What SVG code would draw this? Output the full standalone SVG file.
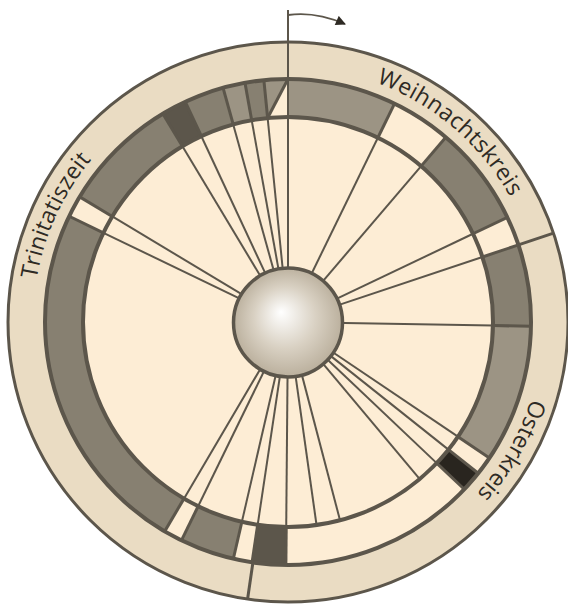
<svg xmlns="http://www.w3.org/2000/svg" width="568" height="605" viewBox="0 0 568 605">
<defs>
<style>
.seg{fill:none;stroke-width:38}
.lt{stroke:#9c9484}
.md{stroke:#878071}
.dk{stroke:#5c564b}
.bk{stroke:#29251f}
.bd{stroke:#5c564b;stroke-width:3}
.sp{stroke:#5c564b;stroke-width:2}
.lbl{font-family:"Open Sans","Liberation Sans",sans-serif;font-size:23px;fill:#2e2a24}
</style>
<radialGradient id="sph" gradientUnits="userSpaceOnUse" cx="288" cy="322" r="56" fx="281" fy="312">
<stop offset="0" stop-color="#ffffff"/>
<stop offset="0.55" stop-color="#d9d1c3"/>
<stop offset="1" stop-color="#b9ae9b"/>
</radialGradient>
<marker id="ah" viewBox="0 0 10 10" refX="9" refY="5" markerWidth="12" markerHeight="10" markerUnits="userSpaceOnUse" orient="auto">
<path d="M0,0 L10,5 L0,10 z" fill="#2e2a24"/>
</marker>
<path id="tp" d="M288,67 A255,255 0 0 1 288,577 A255,255 0 0 1 288,67"/>
</defs>

<g id="rings">
<circle cx="288" cy="322" r="280" fill="#eadcc3" stroke="#5c564b" stroke-width="3"/>
<circle cx="288" cy="322" r="243" fill="#fdedd5"/>
</g>

<g id="segments">
<circle class="seg lt" cx="288" cy="322" r="224" pathLength="360" stroke-dasharray="26 334" transform="rotate(-90 288 322)"/>
<circle class="seg md" cx="288" cy="322" r="224" pathLength="360" stroke-dasharray="24 336" transform="rotate(-49.5 288 322)"/>
<circle class="seg md" cx="288" cy="322" r="224" pathLength="360" stroke-dasharray="19.5 340.5" transform="rotate(-18.5 288 322)"/>
<circle class="seg lt" cx="288" cy="322" r="224" pathLength="360" stroke-dasharray="33 327" transform="rotate(1 288 322)"/>
<circle class="seg bk" cx="288" cy="322" r="224" pathLength="360" stroke-dasharray="5 355" transform="rotate(38.5 288 322)"/>
<circle class="seg dk" cx="288" cy="322" r="224" pathLength="360" stroke-dasharray="8 352" transform="rotate(90.5 288 322)"/>
<circle class="seg md" cx="288" cy="322" r="224" pathLength="360" stroke-dasharray="13 347" transform="rotate(103 288 322)"/>
<circle class="seg md" cx="288" cy="322" r="224" pathLength="360" stroke-dasharray="85.3 274.7" transform="rotate(120.5 288 322)"/>
<circle class="seg md" cx="288" cy="322" r="224" pathLength="360" stroke-dasharray="28 332" transform="rotate(211 288 322)"/>
<circle class="seg dk" cx="288" cy="322" r="224" pathLength="360" stroke-dasharray="6 354" transform="rotate(239 288 322)"/>
<circle class="seg md" cx="288" cy="322" r="224" pathLength="360" stroke-dasharray="9.5 350.5" transform="rotate(245 288 322)"/>
<circle class="seg lt" cx="288" cy="322" r="224" pathLength="360" stroke-dasharray="5.3 354.7" transform="rotate(254.5 288 322)"/>
<circle class="seg md" cx="288" cy="322" r="224" pathLength="360" stroke-dasharray="4.5 355.5" transform="rotate(259.8 288 322)"/>
<polygon points="263.9,80.2 276,79.3 288,79 267.6,118" fill="#9c9484"/>
</g>

<g id="ring-lines" fill="none" stroke="#5c564b">
<circle cx="288" cy="322" r="243" stroke-width="4"/>
<circle cx="288" cy="322" r="205" stroke-width="4"/>
<line x1="288" y1="79" x2="267.6" y2="118" stroke-width="3"/>
</g>

<g id="connectors">
<g id="boundaries">
<line class="bd" x1="288" y1="117" x2="288" y2="79" transform="rotate(26 288 322)"/>
<line class="bd" x1="288" y1="117" x2="288" y2="79" transform="rotate(40.5 288 322)"/>
<line class="bd" x1="288" y1="117" x2="288" y2="79" transform="rotate(64.5 288 322)"/>
<line class="bd" x1="288" y1="117" x2="288" y2="79" transform="rotate(71.5 288 322)"/>
<line class="bd" x1="288" y1="117" x2="288" y2="79" transform="rotate(91 288 322)"/>
<line class="bd" x1="288" y1="117" x2="288" y2="79" transform="rotate(124 288 322)"/>
<line class="bd" x1="288" y1="117" x2="288" y2="79" transform="rotate(128.5 288 322)"/>
<line class="bd" x1="288" y1="117" x2="288" y2="79" transform="rotate(133.5 288 322)"/>
<line class="bd" x1="288" y1="117" x2="288" y2="79" transform="rotate(180.5 288 322)"/>
<line class="bd" x1="288" y1="117" x2="288" y2="79" transform="rotate(188.5 288 322)"/>
<line class="bd" x1="288" y1="117" x2="288" y2="79" transform="rotate(193 288 322)"/>
<line class="bd" x1="288" y1="117" x2="288" y2="79" transform="rotate(206 288 322)"/>
<line class="bd" x1="288" y1="117" x2="288" y2="79" transform="rotate(210.5 288 322)"/>
<line class="bd" x1="288" y1="117" x2="288" y2="79" transform="rotate(295.8 288 322)"/>
<line class="bd" x1="288" y1="117" x2="288" y2="79" transform="rotate(301 288 322)"/>
<line class="bd" x1="288" y1="117" x2="288" y2="79" transform="rotate(329 288 322)"/>
<line class="bd" x1="288" y1="117" x2="288" y2="79" transform="rotate(335 288 322)"/>
<line class="bd" x1="288" y1="117" x2="288" y2="79" transform="rotate(344.5 288 322)"/>
<line class="bd" x1="288" y1="117" x2="288" y2="79" transform="rotate(349.8 288 322)"/>
<line class="bd" x1="288" y1="117" x2="288" y2="79" transform="rotate(354.3 288 322)"/>
<line class="bd" x1="288" y1="79" x2="288" y2="42" transform="rotate(71.5 288 322)"/>
<line class="bd" x1="288" y1="79" x2="288" y2="42" transform="rotate(188.3 288 322)"/>
</g>
<g id="spokes">
<line class="sp" x1="288" y1="280" x2="288" y2="117" transform="rotate(26 288 322)"/>
<line class="sp" x1="288" y1="280" x2="288" y2="117" transform="rotate(40.5 288 322)"/>
<line class="sp" x1="288" y1="280" x2="288" y2="117" transform="rotate(64.5 288 322)"/>
<line class="sp" x1="288" y1="280" x2="288" y2="117" transform="rotate(71.5 288 322)"/>
<line class="sp" x1="288" y1="280" x2="288" y2="117" transform="rotate(91 288 322)"/>
<line class="sp" x1="288" y1="280" x2="288" y2="117" transform="rotate(124 288 322)"/>
<line class="sp" x1="288" y1="280" x2="288" y2="117" transform="rotate(128.5 288 322)"/>
<line class="sp" x1="288" y1="280" x2="288" y2="117" transform="rotate(133.5 288 322)"/>
<line class="sp" x1="288" y1="280" x2="288" y2="117" transform="rotate(140 288 322)"/>
<line class="sp" x1="288" y1="280" x2="288" y2="117" transform="rotate(165.3 288 322)"/>
<line class="sp" x1="288" y1="280" x2="288" y2="117" transform="rotate(172 288 322)"/>
<line class="sp" x1="288" y1="280" x2="288" y2="117" transform="rotate(180.5 288 322)"/>
<line class="sp" x1="288" y1="280" x2="288" y2="117" transform="rotate(188.5 288 322)"/>
<line class="sp" x1="288" y1="280" x2="288" y2="117" transform="rotate(193 288 322)"/>
<line class="sp" x1="288" y1="280" x2="288" y2="117" transform="rotate(206 288 322)"/>
<line class="sp" x1="288" y1="280" x2="288" y2="117" transform="rotate(210.5 288 322)"/>
<line class="sp" x1="288" y1="280" x2="288" y2="117" transform="rotate(295.8 288 322)"/>
<line class="sp" x1="288" y1="280" x2="288" y2="117" transform="rotate(301 288 322)"/>
<line class="sp" x1="288" y1="280" x2="288" y2="117" transform="rotate(329 288 322)"/>
<line class="sp" x1="288" y1="280" x2="288" y2="117" transform="rotate(335 288 322)"/>
<line class="sp" x1="288" y1="280" x2="288" y2="117" transform="rotate(344.5 288 322)"/>
<line class="sp" x1="288" y1="280" x2="288" y2="117" transform="rotate(349.8 288 322)"/>
<line class="sp" x1="288" y1="280" x2="288" y2="117" transform="rotate(354.3 288 322)"/>
</g>
<line id="axis" x1="288" y1="10" x2="288" y2="280" stroke="#5c564b" stroke-width="2"/>
<path id="arrow" d="M288,15 Q315,11 345,24" fill="none" stroke="#5c564b" stroke-width="1.8" marker-end="url(#ah)"/>
</g>

<g id="center">
<circle cx="288" cy="322.5" r="54.5" fill="url(#sph)" stroke="#5c564b" stroke-width="3.5"/>
</g>

<g id="labels">
<text id="weihnachtskreis" class="lbl"><textPath href="#tp" startOffset="89.9" textLength="180" lengthAdjust="spacing">Weihnachtskreis</textPath></text>
<text id="osterkreis" class="lbl"><textPath href="#tp" startOffset="478.4" textLength="110" lengthAdjust="spacing">Osterkreis</textPath></text>
<text id="trinitatiszeit" class="lbl"><textPath href="#tp" startOffset="1244" textLength="133" lengthAdjust="spacing">Trinitatiszeit</textPath></text>
</g>
</svg>
